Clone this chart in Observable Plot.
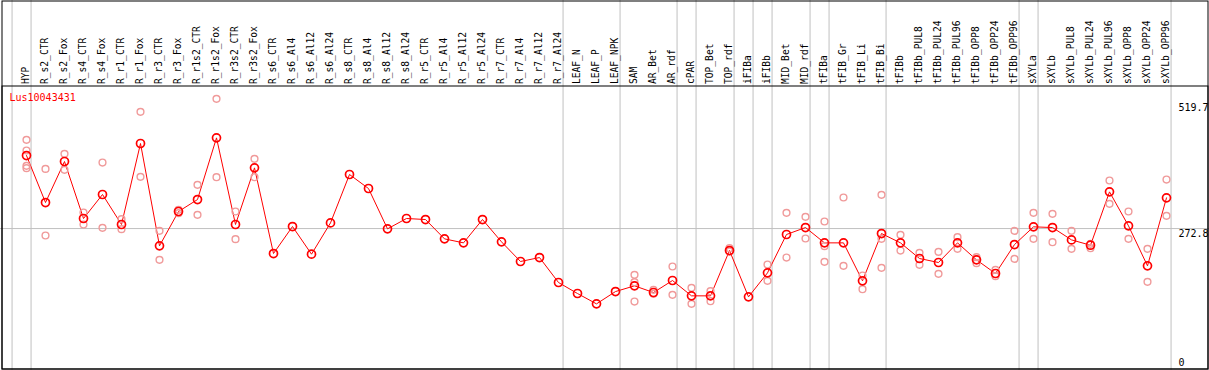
<!DOCTYPE html>
<html>
<head>
<meta charset="utf-8">
<script src="https://cdn.jsdelivr.net/npm/d3@7"></script>
<script src="https://cdn.jsdelivr.net/npm/@observablehq/plot@0.6"></script>
<style>
  html, body { margin: 0; padding: 0; background: #fff; }
  #chart svg { display: block; }
</style>
</head>
<body>
<div id="chart"></div>
<script>
const title = "Lus10043431";

const categories = [
  "HYP","R_s2_CTR","R_s2_Fox","R_s4_CTR","R_s4_Fox","R_r1_CTR","R_r1_Fox","R_r3_CTR","R_r3_Fox",
  "R_r1s2_CTR","R_r1s2_Fox","R_r3s2_CTR","R_r3s2_Fox","R_s6_CTR","R_s6_Al4","R_s6_Al12","R_s6_Al24",
  "R_s8_CTR","R_s8_Al4","R_s8_Al12","R_s8_Al24","R_r5_CTR","R_r5_Al4","R_r5_Al12","R_r5_Al24",
  "R_r7_CTR","R_r7_Al4","R_r7_Al12","R_r7_Al24","LEAF_N","LEAF_P","LEAF_NPK","SAM","AR_Bet","AR_rdf",
  "cPAR","TOP_Bet","TOP_rdf","iFIBa","iFIBb","MID_Bet","MID_rdf","tFIBa","tFIB_Gr","tFIB_Li","tFIB_Bi",
  "tFIBb","tFIBb_PUL8","tFIBb_PUL24","tFIBb_PUL96","tFIBb_OPP8","tFIBb_OPP24","tFIBb_OPP96",
  "sXYLa","sXYLb","sXYLb_PUL8","sXYLb_PUL24","sXYLb_PUL96","sXYLb_OPP8","sXYLb_OPP24","sXYLb_OPP96"
];

const means = [
  416.7,324.1,404.9,292.6,339.9,280.8,440.4,238.7,306.4,
  330.0,451.5,280.8,392.4,223.6,276.8,222.3,284.0,
  379.3,351.7,272.2,292.6,290.6,252.5,244.6,290.6,
  246.6,207.9,215.7,166.5,144.8,124.4,148.7,159.9,146.8,170.4,
  140.2,140.2,229.5,138.2,185.5,261.1,274.8,244.6,244.6,169.8,263.0,
  244.6,213.8,205.9,244.6,211.1,184.2,241.3,
  276.2,274.8,250.5,240.0,345.1,278.1,199.3,333.3
];

const replicates = [
  [447.6,426.6,396.4,391.8],[390.4,259.1],[420.0,388.5],[304.4,280.8],[402.9,274.2],[291.3,271.6],
  [502.8,374.7],[268.3,211.1],[309.7,303.1],[358.9,299.8],[528.4,374.0],[306.4,251.9],[410.2,374.0],
  [],[],[],[],[],[],[],[],[],[],[],[],[],[],[],[],[],[],[],
  [181.6,167.1,129.0],[152.0,144.2],[198.0,142.2],[156.0,124.4],[149.4,129.7],[234.1,227.6],[],
  [201.9,169.8],[303.8,215.7],[295.9,253.2],[286.7,238.1,207.2],[334.0,199.3],[180.3,153.3],
  [339.2,252.5,195.4],[260.4,229.5],[224.9,201.3],[226.9,183.6],[255.8,232.8],[216.4,204.6],
  [191.4,179.0],[268.3,213.1],[303.8,252.5],[301.8,245.9],[268.3,232.8],[242.7,234.1],
  [367.5,321.5],[306.4,252.5],[232.8,167.8],[369.4,297.8]
];

// a separator follows each of these columns (plus one before the first column)
const groupEnds = ["HYP","R_r7_Al24","LEAF_NPK","AR_rdf","cPAR","TOP_rdf","iFIBa","iFIBb",
  "MID_rdf","tFIBa","tFIB_Bi","tFIBb_OPP96","sXYLa","sXYLb_OPP96"];

const yTicks = [0, 272.8, 519.7];
const gridValue = 272.8;

// ---- build tables ----
const rows = categories.map((c, i) => ({i, c, v: means[i]}));
const reps = replicates.flatMap((arr, i) => arr.map(v => ({i, v})));
const sepOffset = 0.24;
const separators = [-1, ...groupEnds.map(g => categories.indexOf(g))].map(i => i + sepOffset);

const W = 1209, H = 370;
const mono = "DejaVu Sans Mono, monospace";

const chart = Plot.plot({
  width: W,
  height: H,
  margin: 0,
  x: {type: "linear", domain: [-26 / 19, (W - 26) / 19], axis: null},
  y: {type: "linear", domain: [-6.9, 722.2], axis: null},
  style: {fontFamily: mono, background: "#fff"},
  marks: [
    Plot.ruleY([gridValue], {stroke: "#c0c0c0", strokeWidth: 1}),
    Plot.ruleX(separators, {x: d => d, stroke: "#c0c0c0", strokeWidth: 1}),
    Plot.frame({stroke: "#000", insetLeft: 1.5, insetRight: 1.5, insetTop: 0.5, insetBottom: 1.5}),
    Plot.frame({stroke: "#000", insetLeft: 1.5, insetRight: 1.5, insetTop: 85.5, insetBottom: 1.5}),
    Plot.text(rows, {
      x: "i", text: "c", frameAnchor: "top", rotate: -90,
      textAnchor: "start", lineAnchor: "middle", dy: 83.5, dx: -0.5,
      fontSize: 9.6, fill: "#000"
    }),
    Plot.line(rows, {x: "i", y: "v", stroke: "#ff0000", strokeWidth: 1}),
    Plot.dot(reps, {x: "i", y: "v", r: 3.4, stroke: "#f09a9a", strokeWidth: 1.4, fill: "none"}),
    Plot.dot(rows, {x: "i", y: "v", r: 4, stroke: "#ff0000", strokeWidth: 1.7, fill: "none"}),
    Plot.text([title], {
      text: d => d, frameAnchor: "top-left", dx: 9, dy: 97.5,
      textAnchor: "start", lineAnchor: "middle", fill: "#ff0000", fontSize: 10
    }),
    Plot.text(yTicks.filter(v => v > 0), {
      y: d => d, text: d => String(d), frameAnchor: "right",
      textAnchor: "start", lineAnchor: "top", dx: -31, dy: 1, fontSize: 10, fill: "#000"
    }),
    Plot.text(yTicks.filter(v => v === 0), {
      y: d => d, text: d => String(d), frameAnchor: "right",
      textAnchor: "start", lineAnchor: "bottom", dx: -31, dy: -1, fontSize: 10, fill: "#000"
    })
  ]
});

document.getElementById("chart").appendChild(chart);
</script>
</body>
</html>
